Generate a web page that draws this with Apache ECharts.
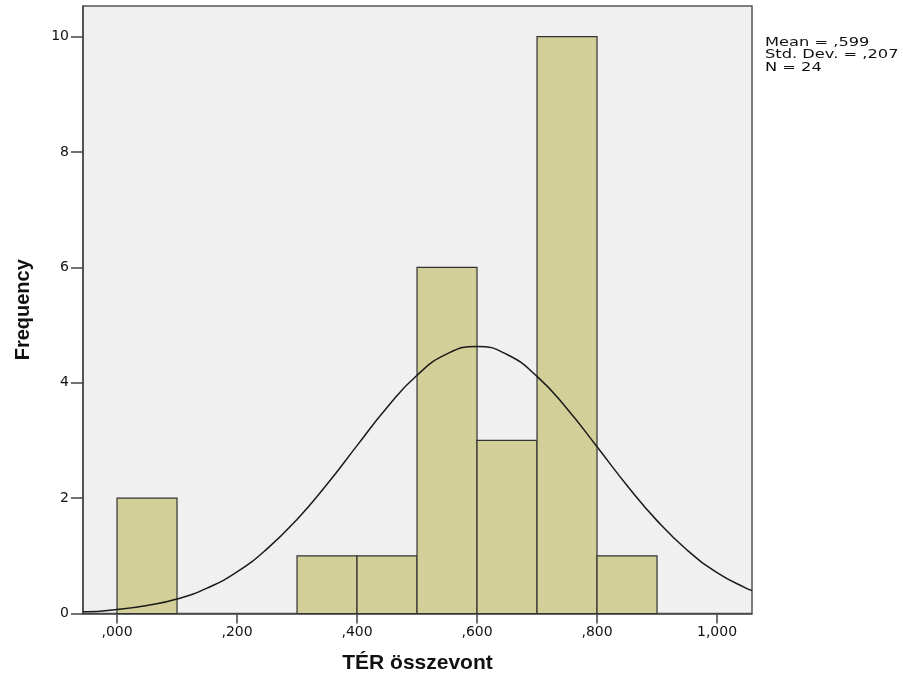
<!DOCTYPE html>
<html>
<head>
<meta charset="utf-8">
<script src="https://cdn.jsdelivr.net/npm/echarts@6/dist/echarts.min.js"></script>
<style>html,body{margin:0;padding:0;background:#fff;}#c{width:903px;height:675px;}</style>
</head>
<body>
<div id="c"></div>
<script>
// Histogram bins: [start, end]
var binStarts = [0.0, 0.3, 0.4, 0.5, 0.6, 0.7, 0.8];
var binEnds   = [0.1, 0.4, 0.5, 0.6, 0.7, 0.8, 0.9];
var binCounts = [2, 1, 1, 6, 3, 10, 1];

// Normal curve points
var curveX = [-0.057, -0.05, 0.0, 0.05, 0.1, 0.15, 0.2, 0.25, 0.3, 0.35, 0.4, 0.45, 0.5, 0.55, 0.6, 0.65, 0.7, 0.75, 0.8, 0.85, 0.9, 0.95, 1.0, 1.05, 1.058];
var curveY = [0.03, 0.03, 0.07, 0.14, 0.25, 0.44, 0.72, 1.12, 1.63, 2.24, 2.91, 3.57, 4.13, 4.50, 4.63, 4.49, 4.11, 3.55, 2.89, 2.22, 1.61, 1.10, 0.71, 0.43, 0.40];

var xTickValues = [0, 0.2, 0.4, 0.6, 0.8, 1.0];
var xTickLabels = [',000', ',200', ',400', ',600', ',800', '1,000'];
var yTickValues = [0, 2, 4, 6, 8, 10];
var yTickLabels = ['0', '2', '4', '6', '8', '10'];

var statsLines = ['Mean = ,599', 'Std. Dev. = ,207', 'N = 24'];

var bars = binStarts.map(function (s, i) { return [s, binEnds[i], binCounts[i]]; });
var curve = curveX.map(function (x, i) { return [x, curveY[i]]; });

var chart = echarts.init(document.getElementById('c'));

chart.setOption({
  animation: false,
  grid: {left: 83, top: 6, right: 151, bottom: 61.5, outerBoundsMode: 'none', containLabel: false,
         show: true, backgroundColor: '#f0f0f0', borderColor: '#555', borderWidth: 1.5},
  xAxis: {
    type: 'value', min: -0.0567, max: 1.0583,
    name: 'TÉR összevont', nameLocation: 'middle', nameGap: 39,
    nameTextStyle: {fontFamily: 'Liberation Sans, Arial', fontWeight: 'bold', fontSize: 21, color: '#111'},
    axisLine: {show: true, onZero: false, lineStyle: {color: '#444', width: 1.5}},
    axisTick: {show: true, length: 10, inside: false, customValues: xTickValues, lineStyle: {color: '#444', width: 1.5}},
    axisLabel: {customValues: xTickValues, margin: 12, fontFamily: 'DejaVu Sans', fontSize: 14, color: '#111',
      formatter: function (v) { var i = xTickValues.indexOf(v); return i >= 0 ? xTickLabels[i] : ''; }},
    splitLine: {show: false}
  },
  yAxis: {
    type: 'value', min: 0, max: 10.53,
    name: 'Frequency', nameLocation: 'middle', nameGap: 50,
    nameTextStyle: {fontFamily: 'Liberation Sans, Arial', fontWeight: 'bold', fontSize: 20, color: '#111'},
    axisLine: {show: true, onZero: false, lineStyle: {color: '#444', width: 1.5}},
    axisTick: {show: true, length: 12, customValues: yTickValues, lineStyle: {color: '#444', width: 1.5}},
    axisLabel: {customValues: yTickValues, margin: 14, fontFamily: 'DejaVu Sans', fontSize: 14, color: '#111',
      formatter: function (v) { var i = yTickValues.indexOf(v); return i >= 0 ? yTickLabels[i] : ''; }},
    splitLine: {show: false}
  },
  series: [
    {
      type: 'custom',
      data: bars,
      encode: {x: [0, 1], y: 2},
      renderItem: function (params, api) {
        var p0 = api.coord([api.value(0), api.value(2)]);
        var p1 = api.coord([api.value(1), 0]);
        return {
          type: 'rect',
          shape: {x: p0[0], y: p0[1], width: p1[0] - p0[0], height: p1[1] - p0[1]},
          style: {fill: '#d3cf98', stroke: '#333', lineWidth: 1.2}
        };
      },
      z: 2
    },
    {
      type: 'line', data: curve, smooth: true, showSymbol: false, symbol: 'none',
      lineStyle: {color: '#1a1a1a', width: 1.5}, z: 3, clip: true
    }
  ],
  graphic: [{
    type: 'text', x: 765, y: 36, scaleX: 1.3,
    style: {text: statsLines.join('\n'), fontFamily: 'DejaVu Sans', fontSize: 12.5, lineHeight: 12.5, fill: '#111'}
  }]
});
</script>
</body>
</html>
